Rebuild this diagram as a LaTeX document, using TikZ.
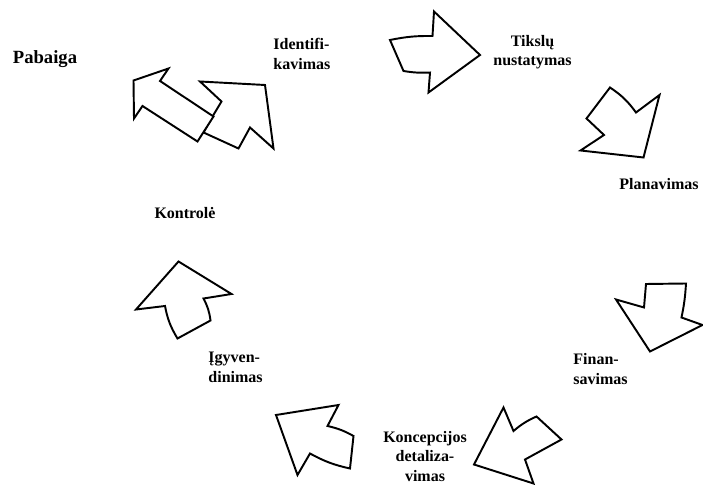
\documentclass[tikz,border=0pt]{standalone}
\usepackage{fontspec}
\setmainfont{Liberation Serif}[BoldFont={Liberation Serif Bold}]

\begin{document}
\begin{tikzpicture}[line width=1.1pt,line join=miter,
  rodykle/.style={draw=black,fill=white},
  etapas/.style={font=\fontsize{9.1}{11.1}\selectfont\bfseries,inner sep=0pt}]
\useasboundingbox (0,0) rectangle (14.06,9.70);
% Pabaiga (virsuje kaireje)
\node[etapas,font=\fontsize{10.6}{12.7}\selectfont\bfseries,anchor=base] (pabaiga) at (0.90,8.43) {Pabaiga};
% Identifikavimas: rodykle i virsu desinen (apacioje)
\filldraw[rodykle]
  (4.00,8.07) -- (5.30,8.00) -- (5.47,6.73) -- (5.00,7.15) -- (4.77,6.73)
  -- (4.07,7.05) -- (4.25,7.37) -- (4.43,7.67) -- cycle;
% Identifikavimas: rodykle i virsu kairen (ant virsaus)
\filldraw[rodykle]
  (2.67,8.09) -- (3.37,8.33) -- (3.20,8.08) -- (4.27,7.37) -- (3.95,6.87)
  -- (2.85,7.58) -- (2.68,7.33) -- cycle;
\node[etapas,align=left,anchor=west] (ident) at (5.45,8.62) {Identifi-\\kavimas};
% Tikslu nustatymas
\filldraw[rodykle]
  (7.80,8.90) to[bend left=6] (8.65,8.98) -- (8.68,9.47) -- (9.60,8.60)
  -- (8.57,7.85) -- (8.60,8.25) to[bend left=6] (8.07,8.28) -- cycle;
\node[etapas,align=center] (tikslai) at (10.65,8.66) {Tikslų\\nustatymas};
% Planavimas
\filldraw[rodykle]
  (12.20,7.95) to[bend left=10] (12.72,7.45) -- (13.19,7.80) -- (12.87,6.55)
  -- (11.61,6.69) -- (12.08,7.00) -- (11.73,7.33) -- cycle;
\node[etapas] (planas) at (13.18,6.01) {Planavimas};
% Finansavimas
\filldraw[rodykle]
  (12.92,4.02) -- (13.72,4.03) to[bend left=4] (13.63,3.35) -- (14.05,3.20)
  -- (13.00,2.67) -- (12.32,3.71) -- (12.88,3.55) -- cycle;
\node[etapas,align=left,anchor=west] (finans) at (11.45,2.32) {Finan-\\savimas};
% Koncepcijos detalizavimas
\filldraw[rodykle]
  (10.07,1.55) -- (10.27,1.08) to[bend left=8] (10.73,1.37) -- (11.23,0.91)
  -- (10.50,0.51) -- (10.67,0.03) -- (9.48,0.41) -- cycle;
\node[etapas,align=center] (koncep) at (8.50,0.57) {Koncepcijos\\detaliza-\\vimas};
% Igyvendinimas
\filldraw[rodykle]
  (5.52,1.40) -- (6.77,1.60) -- (6.55,1.18) to[bend left=8] (7.07,0.98)
  -- (7.00,0.33) to[bend left=8] (6.20,0.63) -- (5.95,0.20) -- cycle;
\node[etapas,align=left,anchor=west] (igyv) at (4.15,2.35) {Įgyven-\\dinimas};
% Kontrole
\filldraw[rodykle]
  (3.57,4.47) -- (4.63,3.82) -- (4.07,3.73) to[bend left=10] (4.21,3.29)
  -- (3.55,2.93) to[bend left=10] (3.30,3.58) -- (2.72,3.51) -- cycle;
\node[etapas] (kontrole) at (3.70,5.43) {Kontrolė};
\end{tikzpicture}
\end{document}
